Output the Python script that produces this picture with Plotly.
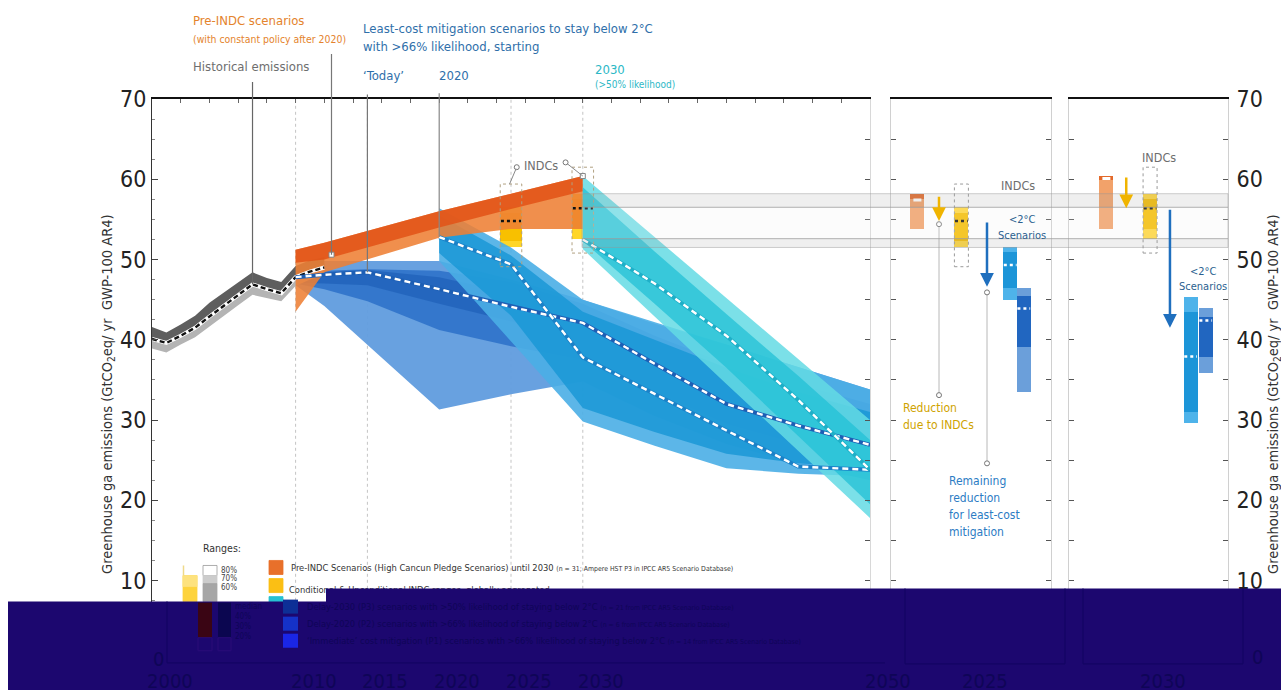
import plotly.graph_objects as go

W, H = 1281, 690
FONT = "Liberation Sans Narrow, Arial Narrow, DejaVu Sans Condensed, sans-serif"

# ---------------- data (GtCO2eq / yr) ----------------
hist_years = [2000, 2001, 2002, 2003, 2004, 2005, 2006, 2007, 2008, 2009, 2010, 2011, 2012]
hist_med = [40.1, 39.6, 40.5, 41.5, 42.9, 44.2, 45.5, 46.9, 46.3, 45.8, 47.8, 48.5, 49.0]
hist_hi = [41.6, 40.9, 41.9, 43.0, 44.6, 45.9, 47.1, 48.4, 47.7, 47.2, 49.2, 49.9, 50.3]
hist_lo = [38.9, 38.4, 39.4, 40.3, 41.6, 43.0, 44.3, 45.6, 45.2, 44.8, 46.7, 47.5, 48.0]

pre_years = [2010, 2012, 2020, 2025, 2030]
pre_hi = [51.2, 52.1, 56.0, 58.2, 60.4]
pre_lo = [43.5, 48.4, 52.7, 53.8, 53.8]
pre_core_lo = [49.6, 50.0, 54.0, 56.3, 58.5]

indc_years = [2025, 2030]
indc_lo = [51.5, 52.6]
indc_hi = [56.5, 58.2]
indc_core_lo = [52.3, 53.8]
indc_core_hi = [55.8, 57.5]
indc_med = [54.8, 56.4]
indc_box_lo = [49.1, 50.8]
indc_box_hi = [59.4, 61.5]

p1_years = [2010, 2012, 2015, 2020, 2025, 2030, 2035, 2040, 2045, 2050]
p1_hi = [47.5, 49.8, 49.8, 49.8, 47.5, 45.0, 42.0, 39.4, 36.6, 33.8]
p1_lo = [46.8, 44.2, 39.4, 31.3, 33.2, 34.8, 30.5, 27.0, 24.5, 22.5]
p1_mid_hi = [47.6, 48.6, 48.8, 48.6, 47.2, 44.5, 40.5, 37.0, 34.5, 32.0]
p1_mid_lo = [47.0, 46.3, 44.8, 41.2, 39.2, 37.5, 33.5, 29.5, 27.0, 25.5]
p1_core_hi = [47.5, 48.4, 48.7, 47.8, 45.8, 43.5, 39.0, 34.5, 31.5, 29.0]
p1_core_lo = [47.1, 47.0, 46.8, 44.5, 42.3, 40.5, 35.0, 30.5, 28.0, 26.0]
p1_med = [47.8, 48.1, 48.4, 46.3, 44.1, 42.1, 37.0, 32.0, 29.3, 26.9]

p2_years = [2020, 2025, 2030, 2035, 2040, 2045, 2050]
p2_hi = [56.4, 51.5, 45.0, 42.2, 39.4, 36.6, 33.8]
p2_lo = [49.8, 39.8, 29.8, 26.8, 24.0, 23.3, 23.0]
p2_mid_hi = [55.5, 50.5, 43.5, 40.0, 36.5, 33.5, 31.0]
p2_mid_lo = [50.8, 43.0, 31.5, 28.5, 25.8, 24.6, 24.0]
p2_med = [52.8, 49.4, 37.8, 33.2, 28.7, 24.2, 23.8]

p3_years = [2030, 2035, 2040, 2045, 2050]
p3_hi = [60.4, 52.8, 45.2, 37.6, 30.0]
p3_lo = [51.3, 42.9, 34.5, 26.1, 17.8]
p3_mid_hi = [59.0, 51.0, 43.2, 35.5, 27.5]
p3_mid_lo = [52.3, 44.5, 36.5, 28.0, 19.5]
p3_med = [52.5, 47.0, 40.5, 32.5, 23.8]

# 2025 / 2030 summary boxes
pre_box_stripe = [57.6, 59.9]
pre_box_med = [57.4, 60.1]
p2_box_lo = [44.9, 29.6]
p2_box_hi = [51.6, 45.3]
p2_box_core_lo = [46.5, 31.0]
p2_box_core_hi = [50.9, 43.5]
p2_box_med = [49.3, 37.9]
p1_box_lo = [33.5, 35.9]
p1_box_hi = [46.5, 44.0]
p1_box_core_lo = [39.1, 37.9]
p1_box_core_hi = [45.4, 42.9]
p1_box_med = [43.9, 42.4]
indc_arrow_from = [58.0, 60.4]
gap_arrow_to = [46.6, 41.5]

x_tick_years = [2000, 2010, 2015, 2020, 2025, 2030, 2050]
guide_years = [2010, 2015, 2025, 2030]

# page geometry: the drawing surface ends up slightly squeezed vertically,
# so vertical pixel positions are mapped through this correction
SY_K, SY_O = 0.978, 14.3


def px(x):
    return x / W


def py(y):
    return (H - (y - SY_O) / SY_K) / H


MAIN_X = [px(152), px(870)]
P25_X = [px(891), px(1051)]
P30_X = [px(1069), px(1228)]
Y_DOM = [py(660), py(100)]

fig = go.Figure()


def band(xs, hi, lo, color, xa="x", ya="y"):
    fig.add_trace(go.Scatter(
        x=list(xs) + list(xs)[::-1], y=list(hi) + list(lo)[::-1],
        fill="toself", fillcolor=color, mode="lines",
        line=dict(width=0, color=color), xaxis=xa, yaxis=ya, hoverinfo="skip"))


def median_line(xs, ys, under, top="white", dash="6px,4px"):
    fig.add_trace(go.Scatter(x=xs, y=ys, mode="lines",
                             line=dict(color=under, width=4), hoverinfo="skip"))
    fig.add_trace(go.Scatter(x=xs, y=ys, mode="lines",
                             line=dict(color=top, width=2.4, dash=dash), hoverinfo="skip"))


def bar(x, lo, hi, color, width, xa="x", ya="y"):
    fig.add_trace(go.Bar(x=[x], y=[hi - lo], base=[lo], width=width,
                         marker=dict(color=color, line=dict(width=0)),
                         xaxis=xa, yaxis=ya, hoverinfo="skip"))


def tick_mark(x, y, half, color, width, dash, xa="x", ya="y"):
    fig.add_trace(go.Scatter(x=[x - half, x + half], y=[y, y], mode="lines",
                             line=dict(color=color, width=width, dash=dash),
                             xaxis=xa, yaxis=ya, hoverinfo="skip"))


# ---------------- main panel ----------------
# immediate (P1)
band(p1_years, p1_hi, p1_lo, "rgba(96,156,222,0.95)")
band(p1_years, p1_mid_hi, p1_mid_lo, "rgba(44,112,200,0.85)")
band(p1_years, p1_core_hi, p1_core_lo, "rgba(30,96,184,0.7)")
# delay-2020 (P2)
band(p2_years, p2_hi, p2_lo, "rgba(74,174,230,0.9)")
band(p2_years, p2_mid_hi, p2_mid_lo, "rgba(26,152,214,0.85)")
# historical
band(hist_years, hist_hi, hist_med, "#5e5e5e")
band(hist_years, hist_med, hist_lo, "#b4b4b4")
# pre-INDC
band(pre_years, pre_hi, pre_lo, "rgba(238,128,52,0.88)")
band(pre_years, pre_hi, pre_core_lo, "rgba(226,82,22,0.85)")
# delay-2030 (P3)
band(p3_years, p3_hi, p3_lo, "rgba(100,218,228,0.85)")
band(p3_years, p3_mid_hi, p3_mid_lo, "rgba(34,192,214,0.75)")

# INDC ranges in the main panel
for i, yr in enumerate(indc_years):
    bar(yr, indc_lo[i], indc_hi[i], "#ffd629", 1.5)
    bar(yr, indc_core_lo[i], indc_core_hi[i], "#f8c000", 1.5)
    tick_mark(yr, indc_med[i], 0.7, "#111", 2.5, "dot")

# medians
median_line(hist_years, hist_med, "white", top="#111", dash="5px,3px")
median_line(p1_years, p1_med, "#1d5fb5")
median_line(p2_years, p2_med, "#1b82c8")
median_line(p3_years, p3_med, "#1fb0c8")

# invisible trace for the right-hand frame axis of the main panel
fig.add_trace(go.Scatter(x=[2000], y=[0], mode="markers", marker=dict(opacity=0),
                         yaxis="y4", hoverinfo="skip"))

# ---------------- 2025 / 2030 panels ----------------
slots = {
    0: dict(xa="x2", ya="y2", pre=1.6, ia=3.0, indc=4.4, ga=6.0, p2=7.45, p1=8.3, w=0.875),
    1: dict(xa="x3", ya="y3", pre=2.3, ia=3.6, indc=5.1, ga=6.35, p2=7.65, p1=8.6, w=0.88),
}
for i, s in slots.items():
    xa, ya, w = s["xa"], s["ya"], s["w"]
    k = pre_years.index(indc_years[i])
    bar(s["pre"], pre_lo[k], pre_hi[k], "#f2a26a", w, xa, ya)
    bar(s["pre"], pre_box_stripe[i], pre_hi[k], "#e3692a", w, xa, ya)
    tick_mark(s["pre"] + 0.05, pre_box_med[i], 0.25, "white", 3, "solid", xa, ya)

    bar(s["indc"], indc_lo[i], indc_hi[i], "#ffd63a", w, xa, ya)
    bar(s["indc"], indc_core_lo[i], indc_core_hi[i], "#f6bd00", w, xa, ya)
    tick_mark(s["indc"], indc_med[i], 0.4, "#111", 2.5, "dot", xa, ya)

    bar(s["p2"], p2_box_lo[i], p2_box_hi[i], "#4eb3ea", w, xa, ya)
    bar(s["p2"], p2_box_core_lo[i], p2_box_core_hi[i], "#1c95d8", w, xa, ya)
    tick_mark(s["p2"], p2_box_med[i], 0.4, "white", 2.5, "dot", xa, ya)

    bar(s["p1"], p1_box_lo[i], p1_box_hi[i], "#6b9fda", w, xa, ya)
    bar(s["p1"], p1_box_core_lo[i], p1_box_core_hi[i], "#2166c0", w, xa, ya)
    tick_mark(s["p1"], p1_box_med[i], 0.4, "white", 2.5, "dot", xa, ya)

    fig.add_shape(type="rect", xref=xa, yref=ya, x0=s["indc"] - w / 2, x1=s["indc"] + w / 2,
                  y0=indc_box_lo[i], y1=indc_box_hi[i],
                  line=dict(color="#9a9a9a", width=1, dash="dot"))
    fig.add_annotation(x=s["ia"], y=indc_med[i], ax=s["ia"], ay=indc_arrow_from[i],
                       xref=xa, yref=ya, axref=xa, ayref=ya, text="", showarrow=True,
                       arrowhead=2, arrowsize=1.1, arrowwidth=2.5, arrowcolor="#f0b400", standoff=0)
    fig.add_annotation(x=s["ga"], y=gap_arrow_to[i], ax=s["ga"], ay=indc_med[i],
                       xref=xa, yref=ya, axref=xa, ayref=ya, text="", showarrow=True,
                       arrowhead=2, arrowsize=1.1, arrowwidth=2.5, arrowcolor="#1f6fbe", standoff=0)

for i, yr in enumerate(indc_years):
    fig.add_shape(type="rect", xref="x", yref="y", x0=yr - 0.75, x1=yr + 0.75,
                  y0=indc_box_lo[i], y1=indc_box_hi[i],
                  line=dict(color="#b0a080", width=1, dash="dot"))

# guide lines below the 2025 panel arrows
for xpos, y0, y1 in [(3.0, 54.4, 33.1), (6.0, 45.9, 24.6)]:
    fig.add_trace(go.Scatter(x=[xpos, xpos], y=[y0, y1], mode="lines+markers",
                             line=dict(color="#b8b8b8", width=1),
                             marker=dict(symbol="circle", size=5, color="white",
                                         line=dict(color="#777", width=1)),
                             xaxis="x2", yaxis="y2", hoverinfo="skip"))

# leader lines to the headline labels
leaders = [
    (hist_years[7], hist_med[7], 72.3, "#666"),
    (2012.5, 50.6, 75.8, "#777"),
    (p1_years[2], p1_med[2], 70.75, "#777"),
    (p2_years[0], p2_med[0], 70.9, "#888"),
]
for x, y, tail, col in leaders:
    fig.add_annotation(x=x, y=y, ax=x, ay=tail, xref="x", yref="y", axref="x", ayref="y",
                       text="", showarrow=True, arrowhead=0, arrowwidth=1.2,
                       arrowcolor=col, standoff=0)
fig.add_trace(go.Scatter(x=[l[0] for l in leaders] + [2031.0],
                         y=[l[2] for l in leaders] + [70.4], mode="markers",
                         marker=dict(symbol="circle", size=5, color="white",
                                     line=dict(color="#777", width=1)),
                         cliponaxis=False, hoverinfo="skip"))
fig.add_trace(go.Scatter(x=[2012.5, 2030], y=[50.6, pre_hi[4]], mode="markers",
                         marker=dict(symbol="square", size=5, color="white",
                                     line=dict(color="#888", width=1)),
                         cliponaxis=False, hoverinfo="skip"))
for (x0, y0, x1, y1) in [(2025.4, 61.5, indc_years[0] - 0.1, indc_box_hi[0]),
                         (2028.8, 62.1, pre_years[4], pre_hi[4])]:
    fig.add_annotation(x=x1, y=y1, ax=x0, ay=y0, xref="x", yref="y", axref="x", ayref="y",
                       text="", showarrow=True, arrowhead=0, arrowwidth=1,
                       arrowcolor="#888", standoff=0)
fig.add_trace(go.Scatter(x=[2025.4, 2028.8], y=[61.5, 62.1], mode="markers",
                         marker=dict(symbol="circle", size=5, color="white",
                                     line=dict(color="#777", width=1)),
                         hoverinfo="skip"))

# legend line that the dark band partly covers: drawn as trace text on a
# full-page overlay so that the band shape sits on top of it
fig.add_trace(go.Scatter(x=[px(289)], y=[py(590)], mode="text",
                         text=["Conditional & Unconditional INDC ranges, globally aggregated"],
                         textposition="middle right",
                         textfont=dict(family=FONT, size=9.3, color="#333"),
                         xaxis="x5", yaxis="y5", cliponaxis=False, hoverinfo="skip"))

# ---------------- shapes ----------------
for yr in guide_years:
    fig.add_shape(type="line", xref="x", yref="y", x0=yr, x1=yr, y0=0, y1=70,
                  line=dict(color="#c4c4c4", width=1, dash="dot"), layer="below")

# grey connector bands from 2030 across the side panels
for lo, hi, fill in [(indc_hi[0], indc_hi[1], "rgba(175,175,175,0.2)"),
                     (indc_lo[0], indc_lo[1], "rgba(175,175,175,0.2)"),
                     (indc_lo[1], indc_hi[0], "rgba(240,240,240,0.18)")]:
    fig.add_shape(type="rect", xref="paper", yref="y", x0=px(582), x1=px(1228),
                  y0=lo, y1=hi, fillcolor=fill,
                  line=dict(color="rgba(150,150,150,0.45)", width=1), layer="above")

# range key (upper, visible part)
key = [
    (183, 575, 197, 601, "#fdd33c"), (183, 575, 197, 586, "#fde27e"),
    (203, 565, 217, 575, "white"), (203, 575, 217, 583, "#cccccc"),
    (203, 583, 217, 601, "#a6a6a6"),
    (269, 560, 283, 574, "#e8702a"), (269, 578, 283, 592, "#fbbf14"),
    (269, 596, 283, 610, "#27c1d3"),
]
for x0, y0, x1, y1, c in key:
    fig.add_shape(type="rect", xref="paper", yref="paper", x0=px(x0), x1=px(x1),
                  y0=py(y1), y1=py(y0), fillcolor=c,
                  line=dict(color="#999" if c == "white" else c, width=0.8), layer="above")
fig.add_shape(type="line", xref="paper", yref="paper", x0=px(183.5), x1=px(183.5),
              y0=py(575), y1=py(565), line=dict(color="#efd98a", width=1.5), layer="above")

# dark band across the bottom
NAVY = "#1c076f"
fig.add_shape(type="rect", xref="paper", yref="paper", x0=px(8), x1=px(326),
              y0=0, y1=py(601), fillcolor=NAVY, line=dict(width=0), layer="above")
fig.add_shape(type="rect", xref="paper", yref="paper", x0=px(326), x1=1,
              y0=0, y1=py(588), fillcolor=NAVY, line=dict(width=0), layer="above")

GHOST = "#0f0557"
GHOST_LINE = "#130563"
ghost_rects = [
    (198, 602, 212, 637, "#3a0514"), (218, 602, 231, 637, "#0b0650"),
    (283, 599, 298, 613, "#0d2f96"), (283, 616, 298, 630, "#1532c8"),
    (283, 633, 298, 647, "#1a26e6"),
]
for x0, y0, x1, y1, c in ghost_rects:
    fig.add_shape(type="rect", xref="paper", yref="paper", x0=px(x0), x1=px(x1),
                  y0=py(y1), y1=py(y0), fillcolor=c, line=dict(width=0), layer="above")
for x0, y0, x1, y1 in [(198, 637, 212, 650), (218, 637, 231, 650)]:
    fig.add_shape(type="rect", xref="paper", yref="paper", x0=px(x0), x1=px(x1),
                  y0=py(y1), y1=py(y0), line=dict(color="#2a0c78", width=1), layer="above")
ghost_lines = [
    (167, 601, 167, 662), (167, 662, 885, 662),
    (905, 588, 905, 663), (1065, 588, 1065, 663), (905, 663, 1065, 663),
    (1083, 588, 1083, 663), (1243, 588, 1243, 663), (1083, 663, 1243, 663),
]
for x0, y0, x1, y1 in ghost_lines:
    fig.add_shape(type="line", xref="paper", yref="paper", x0=px(x0), x1=px(x1),
                  y0=py(y0), y1=py(y1), line=dict(color=GHOST_LINE, width=1.2), layer="above")


# ---------------- text ----------------
def label(x, y, text, size, color, xanchor="left", **kw):
    fig.add_annotation(x=px(x), y=py(y), xref="paper", yref="paper", text=text,
                       showarrow=False, xanchor=xanchor, yanchor="middle",
                       font=dict(family=FONT, size=size, color=color), align="left", **kw)


def lines(x, ys, texts, size, color, xanchor="left"):
    for yy, t in zip(ys, texts):
        label(x, yy, t, size, color, xanchor=xanchor)


ORANGE_T = "#e4832c"
BLUE_T = "#2f6faa"
CYAN_T = "#2cb8c6"
label(191, 22, "Pre-INDC scenarios", 13, ORANGE_T)
label(191, 40, "(with constant policy after 2020)", 10.4, ORANGE_T)
label(191, 68, "Historical emissions", 13, "#6e6e6e")
label(361, 30, "Least-cost mitigation scenarios to stay below 2°C", 13, BLUE_T)
label(361, 48, "with >66% likelihood, starting", 13, BLUE_T)
label(361, 77, "‘Today’", 13, BLUE_T)
label(437, 77, "2020", 13, BLUE_T)
label(593, 71, "2030", 13, CYAN_T)
label(593, 86, "(>50% likelihood)", 10, CYAN_T)
label(541, 166, "INDCs", 12.5, "#6e6e6e", xanchor="center")
label(1018, 186, "INDCs", 12.5, "#6e6e6e", xanchor="center")
label(1159, 158, "INDCs", 12.5, "#6e6e6e", xanchor="center")
lines(1022, [220, 236], ["<2°C", "Scenarios"], 11, "#2b5f8f", xanchor="center")
lines(1203, [272, 287], ["<2°C", "Scenarios"], 11, "#2b5f8f", xanchor="center")
lines(901, [408, 425], ["Reduction", "due to INDCs"], 12, "#cfa300")
lines(947, [481, 498, 515, 532],
      ["Remaining", "reduction", "for least-cost", "mitigation"], 12, "#2c7cc4")

# axis titles
for xpos in (108, 1274):
    fig.add_annotation(x=px(xpos), y=py(394), xref="paper", yref="paper",
                       text="Greenhouse ga emissions (GtCO<sub>2</sub>eq/ yr  GWP-100 AR4)",
                       textangle=-90, showarrow=False, xanchor="center", yanchor="middle",
                       font=dict(family=FONT, size=14.5, color="#333"))

# legend
label(201, 548, "Ranges:", 10.5, "#333")
for yy, t in [(570, "80%"), (578, "70%"), (587, "60%")]:
    label(219, yy, t, 8, "#444")
label(289, 567, "Pre-INDC Scenarios (High Cancun Pledge Scenarios) until 2030 "
      "<span style='font-size:6.9px'>(n = 31; Ampere HST P3 in IPCC AR5 Scenario Database)</span>",
      9.3, "#333")

# text lying under the dark band
for yy, t in [(606, "median"), (616, "40%"), (626, "30%"), (636, "20%")]:
    label(233, yy, t, 8, GHOST)
ghost_legend = [
    (606, "Delay-2030 (P3) scenarios with >50% likelihood of staying below 2°C ",
     "(n = 21 from IPCC AR5 Scenario Database)"),
    (623, "Delay-2020 (P2) scenarios with >66% likelihood of staying below 2°C ",
     "(n = 6 from IPCC AR5 Scenario Database)"),
    (640, "‘Immediate’ cost mitigation (P1) scenarios with >66% likelihood of staying below 2°C ",
     "(n = 14 from IPCC AR5 Scenario Database)"),
]
for yy, t, small in ghost_legend:
    label(305, yy, t + "<span style='font-size:6.9px'>" + small + "</span>", 9.3, GHOST)
for yr in x_tick_years:
    fig.add_annotation(x=yr, y=py(680), xref="x", yref="paper", text=str(yr),
                       showarrow=False, xanchor="center", yanchor="middle", xshift=18,
                       font=dict(family=FONT, size=20, color=GHOST))
label(985, 680, "2025", 20, GHOST, xanchor="center")
label(1163, 680, "2030", 20, GHOST, xanchor="center")
label(158, 658, "0", 20, GHOST, xanchor="center")
label(1257, 656, "0", 20, GHOST, xanchor="center")

# ---------------- axes ----------------
tickfont = dict(family=FONT, size=23, color="#222")
common_y = dict(range=[0, 70], domain=Y_DOM, showgrid=False, zeroline=False, fixedrange=True)
fig.update_layout(
    width=W, height=H, margin=dict(l=0, r=0, t=0, b=0),
    paper_bgcolor="white", plot_bgcolor="rgba(0,0,0,0)",
    showlegend=False, barmode="overlay", bargap=0,
    xaxis=dict(domain=MAIN_X, range=[2000, 2050], anchor="y", showline=True,
               linecolor="#111", linewidth=1.5, mirror="ticks", ticks="inside",
               ticklen=4, tickcolor="#666", dtick=2, tick0=2000,
               showticklabels=False, showgrid=False, zeroline=False),
    yaxis=dict(**common_y, anchor="x", showline=True, linecolor="#333", linewidth=1,
               ticks="inside", ticklen=6, tickcolor="#444", tickvals=[10, 20, 30, 40, 50, 60, 70],
               tickfont=tickfont,
               minor=dict(dtick=2.5, ticks="inside", ticklen=3, tickcolor="#888")),
    yaxis4=dict(**common_y, overlaying="y", side="right", anchor="x", showline=True,
                linecolor="#d8d8d8", ticks="inside", ticklen=5, tickcolor="#555",
                dtick=5, showticklabels=False),
    xaxis2=dict(domain=P25_X, range=[0, 10], anchor="y2", showline=True, linecolor="#111",
                linewidth=1.5, mirror=True, showticklabels=False, ticks="",
                showgrid=False, zeroline=False),
    yaxis2=dict(**common_y, anchor="x2", showline=True, linecolor="#d0d0d0", mirror="ticks",
                ticks="inside", ticklen=5, tickcolor="#555", dtick=5, showticklabels=False),
    xaxis3=dict(domain=P30_X, range=[0, 10], anchor="y3", showline=True, linecolor="#111",
                linewidth=1.5, mirror=True, showticklabels=False, ticks="",
                showgrid=False, zeroline=False),
    yaxis3=dict(**common_y, anchor="x3", side="right", showline=True, linecolor="#d0d0d0",
                mirror="ticks", ticks="inside", ticklen=5, tickcolor="#555",
                tickvals=[10, 20, 30, 40, 50, 60, 70], tickfont=tickfont,
                ticklabelstandoff=3,
                minor=dict(dtick=5, ticks="inside", ticklen=5, tickcolor="#555")),
    xaxis5=dict(domain=[0, 1], range=[0, 1], anchor="y5", visible=False, fixedrange=True),
    yaxis5=dict(domain=[0, 1], range=[0, 1], anchor="x5", visible=False, fixedrange=True),
)

fig.write_html("out.html")
